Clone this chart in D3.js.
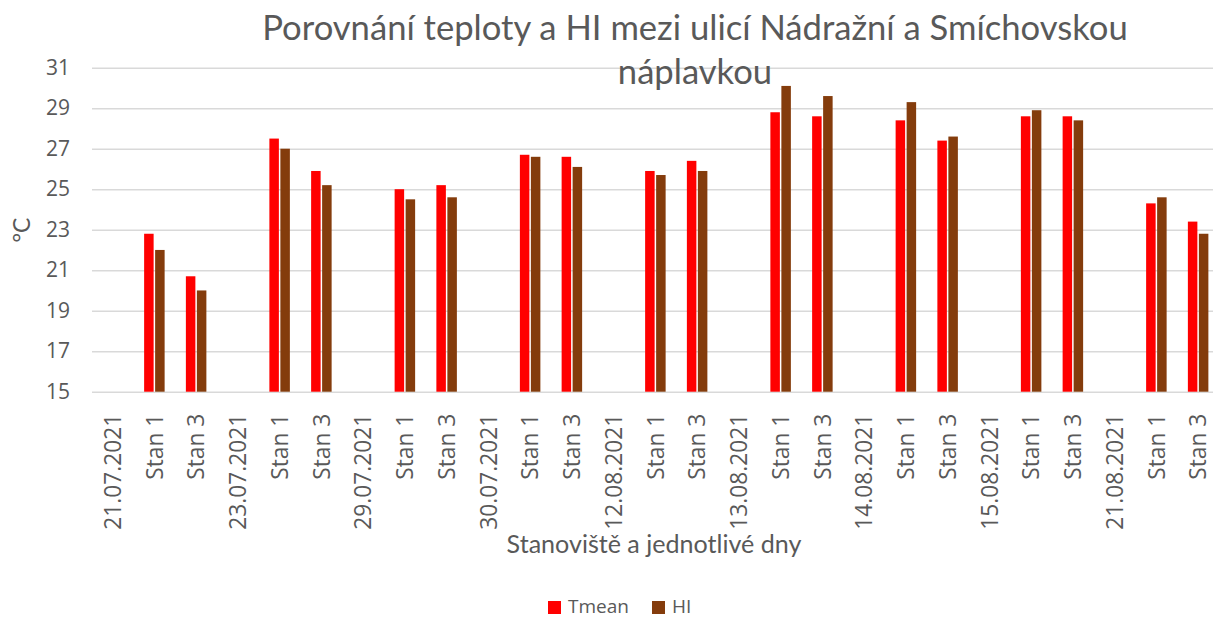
<!DOCTYPE html>
<html>
<head>
<meta charset="utf-8">
<script src="https://cdn.jsdelivr.net/npm/d3@7"></script>
<style>
  body { margin: 0; background: #fff; }
  text { font-family: Lato, "Open Sans", sans-serif; fill: #595959; }
</style>
</head>
<body>
<script>
var svgWidth = 1213;
var svgHeight = 618;

// data
var dates = ["21.07.2021", "23.07.2021", "29.07.2021", "30.07.2021", "12.08.2021",
             "13.08.2021", "14.08.2021", "15.08.2021", "21.08.2021"];
var stations = ["Stan 1", "Stan 3"];
var tmean = [22.8, 20.7, 27.5, 25.9, 25.0, 25.2, 26.7, 26.6, 25.9, 26.4,
             28.8, 28.6, 28.4, 27.4, 28.6, 28.6, 24.3, 23.4];
var hi    = [22.0, 20.0, 27.0, 25.2, 24.5, 24.6, 26.6, 26.1, 25.7, 25.9,
             30.1, 29.6, 29.3, 27.6, 28.9, 28.4, 24.6, 22.8];
var yTicks = [15, 17, 19, 21, 23, 25, 27, 29, 31];
var seriesNames = ["Tmean", "HI"];
var colors = ["#ff0000", "#843c0c"];

// category rows: date row (empty) then one row per station
var rows = [];
dates.forEach(function(d, i) {
    rows.push({label: d, t: null, h: null});
    stations.forEach(function(s, j) {
        var k = i * stations.length + j;
        rows.push({label: s, t: tmean[k], h: hi[k]});
    });
});

var left = 92;
var step = 41.75;
var x = d3.scaleBand()
    .domain(d3.range(rows.length))
    .range([left, left + step * rows.length]);

var y = d3.scaleLinear()
    .domain([15, 31])
    .range([391.7, 67.7]);

var svg = d3.select("body").append("svg")
    .attr("width", svgWidth)
    .attr("height", svgHeight);

// fit a text to a given width
function fit(t, w) {
    var len = t.node().getComputedTextLength();
    var fs = parseFloat(t.attr("font-size"));
    t.attr("font-size", fs * w / len);
}

// grid
svg.append("g")
    .attr("transform", "translate(" + left + ",0)")
    .call(d3.axisLeft(y).tickValues(yTicks).tickSize(-(svgWidth - left)).tickFormat(""))
    .call(function(g) { g.select(".domain").remove(); })
    .selectAll("line")
    .attr("stroke", "#d9d9d9")
    .attr("stroke-width", 1.5);

// y axis labels
svg.append("g")
    .attr("transform", "translate(" + left + ",0)")
    .call(d3.axisLeft(y).tickValues(yTicks).tickSize(0).tickPadding(22))
    .call(function(g) { g.select(".domain").remove(); })
    .selectAll("text")
    .attr("font-size", 21)
    .style("font-family", "'Open Sans', sans-serif")
    .attr("fill", "#595959");

// x axis labels
var xl = svg.append("g")
    .attr("transform", "translate(0,391.7)")
    .call(d3.axisBottom(x).tickSize(0).tickFormat(function(i) { return rows[i].label; }))
    .call(function(g) { g.select(".domain").remove(); })
    .selectAll("text")
    .attr("font-size", 18)
    .style("font-family", "'Open Sans', sans-serif")
    .attr("fill", "#595959")
    .attr("text-anchor", "end")
    .attr("transform", "rotate(-90)")
    .attr("x", -22)
    .attr("y", 0)
    .attr("dy", "0.35em");
// scale the labels so a date is as long as in the picture
var probe = xl.filter(function(i) { return i === 0; });
fit(probe, 116);
xl.attr("font-size", probe.attr("font-size"));

// bars
var idx = rows.map(function(r, i) { return i; }).filter(function(i) { return rows[i].t !== null; });

svg.append("g").selectAll("rect")
    .data(idx)
    .join("rect")
    .attr("x", function(i) { return x(i) + x.bandwidth() / 2 - 10.5; })
    .attr("y", function(i) { return y(rows[i].t); })
    .attr("width", 9.5)
    .attr("height", function(i) { return y(15) - y(rows[i].t); })
    .attr("fill", colors[0]);

svg.append("g").selectAll("rect")
    .data(idx)
    .join("rect")
    .attr("x", function(i) { return x(i) + x.bandwidth() / 2 + 0.5; })
    .attr("y", function(i) { return y(rows[i].h); })
    .attr("width", 9.5)
    .attr("height", function(i) { return y(15) - y(rows[i].h); })
    .attr("fill", colors[1]);

// title
var t1 = svg.append("text")
    .attr("x", 695).attr("y", 40)
    .attr("text-anchor", "middle")
    .attr("font-size", 32)
    .text("Porovnání teploty a HI mezi ulicí Nádražní a Smíchovskou");
fit(t1, 866);
svg.append("text")
    .attr("x", 695).attr("y", 84)
    .attr("text-anchor", "middle")
    .attr("font-size", t1.attr("font-size"))
    .text("náplavkou");

// axis titles
var xt = svg.append("text")
    .attr("x", 654).attr("y", 553)
    .attr("text-anchor", "middle")
    .attr("font-size", 22)
    .text("Stanoviště a jednotlivé dny");
fit(xt, 295);

svg.append("text")
    .attr("transform", "translate(30,230) rotate(-90)")
    .attr("text-anchor", "middle")
    .attr("font-size", 23)
    .text("°C");

// legend
var legend = svg.append("g");
var lx = [548, 652];
seriesNames.forEach(function(n, i) {
    legend.append("rect")
        .attr("x", lx[i]).attr("y", 601)
        .attr("width", 13).attr("height", 13)
        .attr("fill", colors[i]);
    legend.append("text")
        .attr("x", lx[i] + 20).attr("y", 613)
        .attr("font-size", 19)
        .style("font-family", "'Open Sans', sans-serif")
        .text(n);
});
</script>
</body>
</html>
